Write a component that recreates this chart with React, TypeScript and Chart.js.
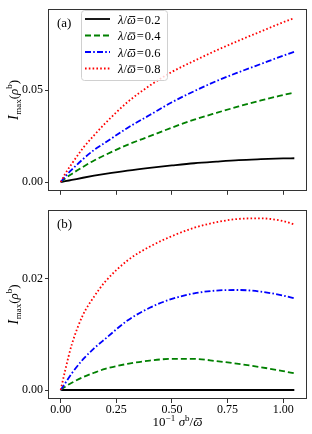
import React, { useEffect, useRef } from 'react';
import { Chart, registerables } from 'chart.js';
Chart.register(...registerables);

// ---- data ----
const xValues = [0, 0.02, 0.05, 0.1, 0.15, 0.2, 0.3, 0.4, 0.5, 0.6, 0.7, 0.8, 0.9, 1.0, 1.05];
const ratioLabels = ['0.2', '0.4', '0.6', '0.8'];

const topRatio02 = [0, 0.0005, 0.0012, 0.0024, 0.0035, 0.0045, 0.0063, 0.0078, 0.0091, 0.0103, 0.0112, 0.012, 0.0125, 0.0129, 0.013];
const topRatio04 = [0, 0.002, 0.0045, 0.0083, 0.0118, 0.0148, 0.0203, 0.025, 0.0297, 0.034, 0.0377, 0.0412, 0.0445, 0.0474, 0.0488];
const topRatio06 = [0, 0.003, 0.0068, 0.0125, 0.0175, 0.0215, 0.0295, 0.0365, 0.0435, 0.0495, 0.055, 0.0598, 0.0643, 0.0688, 0.0709];
const topRatio08 = [0, 0.0045, 0.01, 0.0185, 0.0255, 0.032, 0.0435, 0.0525, 0.06, 0.066, 0.0717, 0.077, 0.082, 0.087, 0.0893];

const botRatio02 = [0, 0, 0, 0, 0, 0, 0, 0, 0, 0, 0, 0, 0, 0, 0];
const botRatio04 = [0, 0.0006, 0.0013, 0.0023, 0.0031, 0.0038, 0.0047, 0.0053, 0.0056, 0.0056, 0.0052, 0.0047, 0.0041, 0.0034, 0.003];
const botRatio06 = [0, 0.0012, 0.003, 0.0055, 0.0075, 0.0092, 0.0125, 0.0148, 0.0164, 0.0174, 0.0179, 0.018, 0.0177, 0.017, 0.0165];
const botRatio08 = [0, 0.0035, 0.0082, 0.0135, 0.0168, 0.0195, 0.0233, 0.0258, 0.0277, 0.0292, 0.0302, 0.0308, 0.0309, 0.0304, 0.0298];

const xTicks = [0, 0.25, 0.5, 0.75, 1.0];
const topYTicks = [0, 0.05];
const botYTicks = [0, 0.02];

// ---- styles ----
const colors = ['#000000', '#008000', '#0000ff', '#ff0000'];
const dashes: number[][] = [[], [6, 3], [6, 2.2, 1.6, 2.2], [1.6, 2.2]];
const FAM = '"Liberation Serif", "DejaVu Serif", serif';
const AXIS_COLOR = '#333333';

type Piece = { t: string; italic?: boolean; size?: number; dy?: number; bar?: boolean; gap?: number; pre?: number };

function drawRich(ctx: CanvasRenderingContext2D, pieces: Piece[], x: number, y: number, base: number, align: 'left' | 'center' = 'left') {
  const font = (p: Piece) => `${p.italic ? 'italic ' : ''}${p.size ?? base}px ${FAM}`;
  let total = 0;
  const widths = pieces.map((p) => {
    ctx.font = font(p);
    const w = ctx.measureText(p.t).width;
    total += w + (p.gap ?? 0) + (p.pre ?? 0);
    return w;
  });
  let cx = align === 'center' ? x - total / 2 : x;
  ctx.textBaseline = 'alphabetic';
  ctx.textAlign = 'left';
  ctx.fillStyle = '#000';
  pieces.forEach((p, i) => {
    cx += p.pre ?? 0;
    ctx.font = font(p);
    const yy = y + (p.dy ?? 0);
    ctx.fillText(p.t, cx, yy);
    if (p.bar) {
      const s = p.size ?? base;
      ctx.fillRect(cx + s * 0.18, yy - s * 0.6, widths[i] - s * 0.22, Math.max(0.9, s * 0.07));
    }
    cx += widths[i] + (p.gap ?? 0);
  });
  return total;
}

function makeDatasets(series: number[][]) {
  return series.map((vals, i) => ({
    label: ratioLabels[i],
    data: xValues.map((x, k) => ({ x, y: vals[k] })),
    borderColor: colors[i],
    backgroundColor: colors[i],
    borderWidth: 1.8,
    borderDash: dashes[i],
    pointRadius: 0,
    cubicInterpolationMode: 'monotone' as const,
    fill: false,
    order: 3 - i,
  }));
}

function makeChart(canvas: HTMLCanvasElement, panel: 'a' | 'b') {
  const isTop = panel === 'a';
  const series = isTop ? [topRatio02, topRatio04, topRatio06, topRatio08] : [botRatio02, botRatio04, botRatio06, botRatio08];
  const yTicks = isTop ? topYTicks : botYTicks;
  const tickFont = { family: FAM, size: 12 };
  const gridCfg = { display: true, drawOnChartArea: false, drawTicks: true, tickLength: 4, color: AXIS_COLOR, lineWidth: 1 };

  const framePlugin = {
    id: 'frame' + panel,
    afterDraw(chart: any) {
      const ctx: CanvasRenderingContext2D = chart.ctx;
      const a = chart.chartArea;
      ctx.save();
      ctx.strokeStyle = AXIS_COLOR;
      ctx.lineWidth = 1;
      ctx.strokeRect(Math.round(a.left) - 0.5, Math.round(a.top) + 0.5, Math.round(a.right - a.left) + 1, Math.round(a.bottom - a.top) - 1);

      // panel label
      ctx.fillStyle = '#000';
      ctx.font = `13px ${FAM}`;
      ctx.textBaseline = 'alphabetic';
      ctx.textAlign = 'left';
      ctx.fillText(isTop ? '(a)' : '(b)', 57, a.top + 18);

      // y title: I_max(rho^b)
      const cy = (a.top + a.bottom) / 2;
      ctx.translate(13, cy);
      ctx.rotate(-Math.PI / 2);
      drawRich(ctx, [
        { t: 'I', italic: true, size: 14, gap: 0.5 },
        { t: 'max', size: 9, dy: 3 },
        { t: '(' },
        { t: 'ρ', italic: true },
        { t: 'b', size: 9, dy: -5.5 },
        { t: ')' },
      ], 0, 4.5, 13, 'center');
      ctx.restore();

      if (isTop) {
        // legend
        ctx.save();
        const lx = 81, ly = 10, lw = 86, lh = 70;
        ctx.beginPath();
        (ctx as any).roundRect ? (ctx as any).roundRect(lx + 0.5, ly + 0.5, lw, lh, 3) : ctx.rect(lx + 0.5, ly + 0.5, lw, lh);
        ctx.fillStyle = 'rgba(255,255,255,0.8)';
        ctx.fill();
        ctx.strokeStyle = '#d0d0d0';
        ctx.lineWidth = 1;
        ctx.stroke();
        const rows = [19, 35.5, 52, 68.5];
        ratioLabels.forEach((lab, i) => {
          const ry = rows[i];
          ctx.beginPath();
          ctx.setLineDash(dashes[i]);
          ctx.strokeStyle = colors[i];
          ctx.lineWidth = 1.8;
          ctx.moveTo(85, ry);
          ctx.lineTo(110, ry);
          ctx.stroke();
          ctx.setLineDash([]);
          drawRich(ctx, [
            { t: 'λ', italic: true },
            { t: '/' },
            { t: 'ω', italic: true, bar: true },
            { t: '=', pre: 1, gap: 1 },
            { t: lab },
          ], 118, ry + 4.5, 12.5);
        });
        ctx.restore();
      } else {
        // x title
        ctx.save();
        const cx = (a.left + a.right) / 2;
        drawRich(ctx, [
          { t: '10' },
          { t: '−1', size: 9, dy: -5, gap: 3.5 },
          { t: 'σ', italic: true },
          { t: 'b', size: 9, dy: -5 },
          { t: '/' },
          { t: 'ω', italic: true, bar: true },
        ], cx, 226, 13, 'center');
        ctx.restore();
      }
    },
  };

  return new Chart(canvas, {
    type: 'line',
    data: { datasets: makeDatasets(series) as any },
    options: {
      responsive: false,
      animation: false,
      events: [],
      layout: { padding: { left: 0, right: 6, top: isTop ? 4 : 10, bottom: 0 } },
      plugins: { legend: { display: false }, tooltip: { enabled: false }, title: { display: false } },
      scales: {
        x: {
          type: 'linear',
          min: -0.0525,
          max: 1.1025,
          afterBuildTicks: (s: any) => { s.ticks = xTicks.map((v) => ({ value: v })); },
          afterFit: (s: any) => { s.height = isTop ? 8 : 35; },
          ticks: {
            display: !isTop,
            font: tickFont,
            color: '#000',
            padding: 0,
            maxRotation: 0,
            autoSkip: false,
            callback: (v: any) => Number(v).toFixed(2),
          },
          grid: gridCfg,
          border: { display: false },
        },
        y: {
          type: 'linear',
          min: isTop ? -0.0047 : -0.00162,
          max: isTop ? 0.0941 : 0.0324,
          afterBuildTicks: (s: any) => { s.ticks = yTicks.map((v) => ({ value: v })); },
          afterFit: (s: any) => { s.width = 49; },
          ticks: {
            font: tickFont,
            color: '#000',
            padding: 2,
            autoSkip: false,
            callback: (v: any) => Number(v).toFixed(2),
          },
          grid: gridCfg,
          border: { display: false },
        },
      },
    },
    plugins: [framePlugin],
  } as any);
}

export default function App() {
  const topRef = useRef<HTMLCanvasElement>(null);
  const botRef = useRef<HTMLCanvasElement>(null);
  useEffect(() => {
    const c1 = makeChart(topRef.current!, 'a');
    const c2 = makeChart(botRef.current!, 'b');
    return () => { c1.destroy(); c2.destroy(); };
  }, []);
  return (
    <div style={{ position: 'absolute', left: 0, top: 0, width: 312, height: 434, background: '#fff', overflow: 'hidden' }}>
      <canvas ref={topRef} width={312} height={200} style={{ position: 'absolute', left: 0, top: 0 }} />
      <canvas ref={botRef} width={312} height={234} style={{ position: 'absolute', left: 0, top: 200 }} />
    </div>
  );
}
